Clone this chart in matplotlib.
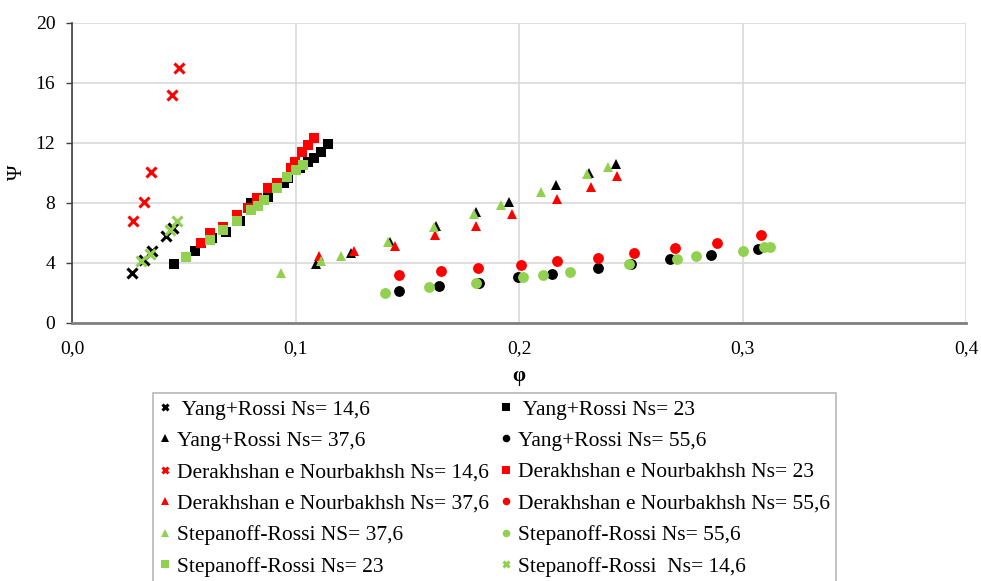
import matplotlib
matplotlib.use("Agg")
import matplotlib.pyplot as plt

plt.rcParams['font.family'] = ['Liberation Serif', 'DejaVu Serif']

# ---- data (phi, psi) ----
yang146_x = [0.027, 0.032, 0.036, 0.042, 0.045]
yang146_y = [3.3, 4.2, 4.8, 5.8, 6.3]

yang23_x = [0.0457, 0.0549, 0.0625, 0.0688, 0.075, 0.0799, 0.0875, 0.095, 0.0966, 0.1018, 0.1058, 0.1085, 0.1115, 0.1144]
yang23_y = [3.90, 4.79, 5.63, 6.03, 6.77, 7.95, 8.37, 9.3, 9.61, 10.3, 10.7, 10.95, 11.39, 11.9]

yang376_x = [0.1092, 0.1249, 0.1423, 0.1628, 0.1807, 0.1955, 0.2167, 0.2313, 0.2432]
yang376_y = [3.9, 4.65, 5.39, 6.43, 7.39, 8.06, 9.17, 9.94, 10.57]

yang556_x = [0.1461, 0.164, 0.1821, 0.1997, 0.2146, 0.2354, 0.2499, 0.2677, 0.2858, 0.3068]
yang556_y = [2.12, 2.43, 2.65, 3.01, 3.21, 3.61, 3.9, 4.21, 4.52, 4.9]

der146_x = [0.0274, 0.0321, 0.0352, 0.0449, 0.0477]
der146_y = [6.77, 8.06, 10.03, 15.17, 17.0]

der23_x = [0.0576, 0.0616, 0.0674, 0.0737, 0.0786, 0.0826, 0.0875, 0.0915, 0.0982, 0.0996, 0.1031, 0.1054, 0.1085]
der23_y = [5.3, 5.97, 6.37, 7.17, 7.63, 8.3, 8.97, 9.3, 10.3, 10.7, 11.37, 11.83, 12.3]

der376_x = [0.1104, 0.1263, 0.1445, 0.1625, 0.1809, 0.197, 0.2171, 0.232, 0.2439]
der376_y = [4.43, 4.77, 5.1, 5.83, 6.45, 7.23, 8.21, 9.05, 9.77]

der556_x = [0.1461, 0.165, 0.1817, 0.2008, 0.2168, 0.2354, 0.2513, 0.2696, 0.2888, 0.3082]
der556_y = [3.17, 3.43, 3.63, 3.83, 4.1, 4.32, 4.61, 4.95, 5.28, 5.83]

step376_x = [0.0936, 0.1115, 0.1204, 0.1412, 0.162, 0.1799, 0.1918, 0.2097, 0.2305, 0.2397]
step376_y = [3.32, 4.12, 4.43, 5.39, 6.35, 7.23, 7.83, 8.72, 9.9, 10.35]

step556_x = [0.1402, 0.1598, 0.1809, 0.2019, 0.2108, 0.2228, 0.2491, 0.2707, 0.2792, 0.3001, 0.3094, 0.3123]
step556_y = [1.99, 2.35, 2.65, 3.01, 3.17, 3.39, 3.9, 4.23, 4.45, 4.79, 5.01, 5.06]

step23_x = [0.0508, 0.0616, 0.0674, 0.0737, 0.0799, 0.083, 0.0857, 0.0915, 0.0964, 0.1003, 0.1033]
step23_y = [4.4, 5.5, 6.2, 6.8, 7.5, 7.8, 8.2, 9.0, 9.7, 10.2, 10.5]

step146_x = [0.031, 0.035, 0.044, 0.047]
step146_y = [4.1, 4.6, 6.2, 6.8]

x_ticks = [0.0, 0.1, 0.2, 0.3, 0.4]
x_tick_labels = ['0,0', '0,1', '0,2', '0,3', '0,4']
y_ticks = [0, 4, 8, 12, 16, 20]

BLACK = '#000000'
RED = '#FF0000'
GREEN = '#92D050'

series = [
    (yang146_x, yang146_y, 'x', BLACK, ' Yang+Rossi Ns= 14,6'),
    (yang23_x, yang23_y, 's', BLACK, ' Yang+Rossi Ns= 23'),
    (yang376_x, yang376_y, '^', BLACK, 'Yang+Rossi Ns= 37,6'),
    (yang556_x, yang556_y, 'o', BLACK, 'Yang+Rossi Ns= 55,6'),
    (der146_x, der146_y, 'x', RED, 'Derakhshan e Nourbakhsh Ns= 14,6'),
    (der23_x, der23_y, 's', RED, 'Derakhshan e Nourbakhsh Ns= 23'),
    (der376_x, der376_y, '^', RED, 'Derakhshan e Nourbakhsh Ns= 37,6'),
    (der556_x, der556_y, 'o', RED, 'Derakhshan e Nourbakhsh Ns= 55,6'),
    (step376_x, step376_y, '^', GREEN, 'Stepanoff-Rossi NS= 37,6'),
    (step556_x, step556_y, 'o', GREEN, 'Stepanoff-Rossi Ns= 55,6'),
    (step23_x, step23_y, 's', GREEN, 'Stepanoff-Rossi Ns= 23'),
    (step146_x, step146_y, 'x', GREEN, 'Stepanoff-Rossi  Ns= 14,6'),
]

fig = plt.figure(figsize=(9.81, 5.81), dpi=100)
ax = fig.add_axes([72/981, 1-322.5/581, (966-72)/981, 300/581])

handles = {}
for xs, ys, m, c, lab in series:
    if m == 'x':
        ln, = ax.plot(xs, ys, linestyle='none', marker='x', markersize=6.5,
                      markeredgewidth=2.2, color=c, label=lab)
    else:
        ln, = ax.plot(xs, ys, linestyle='none', marker=m, markersize=7.8,
                      markeredgewidth=0, color=c, label=lab)
    handles[lab] = ln

ax.set_xlim(0, 0.4)
ax.set_ylim(0, 20)
ax.set_xticks(x_ticks)
ax.set_xticklabels(x_tick_labels)
ax.set_yticks(y_ticks)
ax.grid(True, color='#D9D9D9', linewidth=1.2)
ax.set_axisbelow(True)
for s in ['top', 'right']:
    ax.spines[s].set_visible(False)
ax.spines['left'].set_color('#404040')
ax.spines['left'].set_linewidth(1.2)
ax.spines['bottom'].set_color('#808080')
ax.spines['bottom'].set_linewidth(2)
ax.tick_params(axis='x', length=0, pad=13, labelsize=14)
ax.tick_params(axis='y', length=4, width=1, color='#404040', pad=8, labelsize=14)
ax.set_xlabel('φ', fontsize=15, labelpad=6, fontweight='bold')
ax.set_ylabel('Ψ', fontsize=15, labelpad=6)

order = [0, 2, 4, 6, 8, 10, 1, 3, 5, 7, 9, 11]
hs = [handles[series[i][4]] for i in order]
ls = [series[i][4] for i in order]
leg = fig.legend(hs, ls, loc='upper left', bbox_to_anchor=(153/981, 1-393/581),
                 bbox_transform=fig.transFigure, ncol=2, fontsize=15.5,
                 frameon=True, fancybox=False, edgecolor='#A6A6A6',
                 handlelength=0.5, handletextpad=0.3, columnspacing=0.55,
                 labelspacing=0.53, markerscale=0.7, borderaxespad=0,
                 borderpad=0.3)
leg.get_frame().set_linewidth(1.2)

fig.savefig('out.png', dpi=100)
